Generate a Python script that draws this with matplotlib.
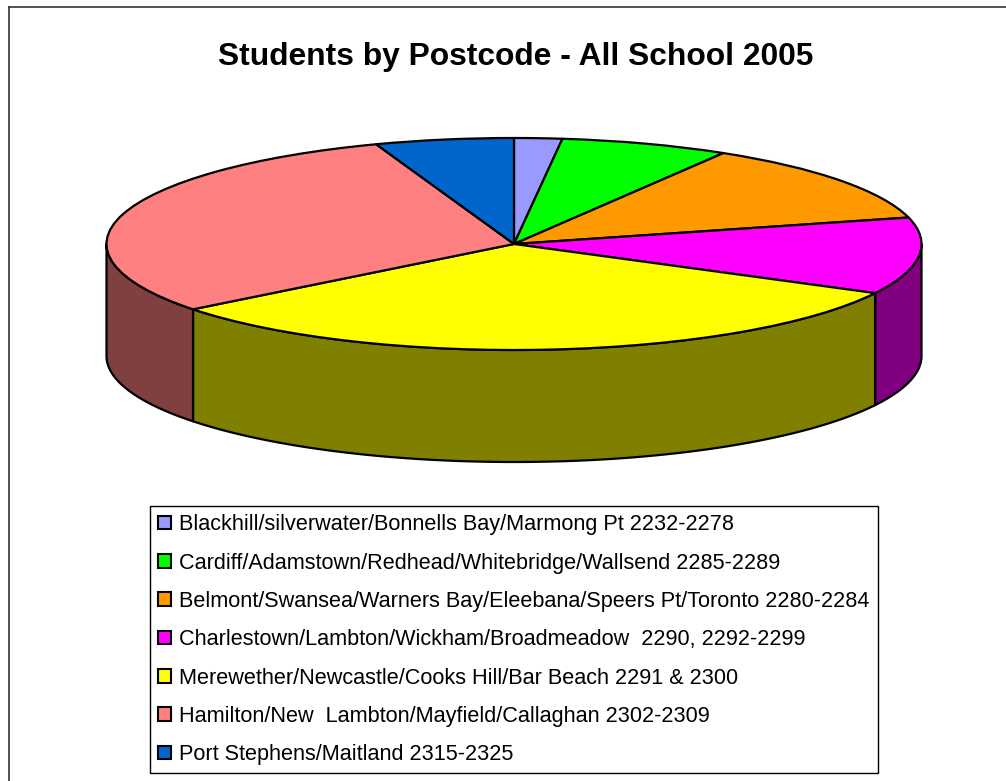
import numpy as np
import matplotlib
matplotlib.use("Agg")
import matplotlib.pyplot as plt
from matplotlib.lines import Line2D

labels = [
    "Blackhill/silverwater/Bonnells Bay/Marmong Pt 2232-2278",
    "Cardiff/Adamstown/Redhead/Whitebridge/Wallsend 2285-2289",
    "Belmont/Swansea/Warners Bay/Eleebana/Speers Pt/Toronto 2280-2284",
    "Charlestown/Lambton/Wickham/Broadmeadow  2290, 2292-2299",
    "Merewether/Newcastle/Cooks Hill/Bar Beach 2291 & 2300",
    "Hamilton/New  Lambton/Mayfield/Callaghan 2302-2309",
    "Port Stephens/Maitland 2315-2325",
]
# percent of students
values = [1.9, 6.7, 12.4, 11.7, 31.8, 30.1, 5.5]
top_colors = ["#9999FF", "#00FF00", "#FF9900", "#FF00FF", "#FFFF00", "#FF8080", "#0066CC"]
side_colors = ["#4C4C80", "#008000", "#804C00", "#800080", "#808000", "#804040", "#003366"]

W, H = 1006, 781
plt.rcParams["font.family"] = ["Liberation Sans", "DejaVu Sans"]
fig = plt.figure(figsize=(W / 100, H / 100), dpi=100, facecolor="white")

# axes box is the bounding box of the top ellipse, so the circle of pie() gets squashed
ax = fig.add_axes([106.5 / W, 1 - 350 / H, 815 / W, 212 / H])
depth = 112 / 106

angles = np.cumsum([0] + values) / np.sum(values) * 360

# side wall first, only the part of each slice facing the viewer
for i in range(len(values)):
    a = max(angles[i], 90)
    b = min(angles[i + 1], 270)
    if a >= b:
        continue
    t = np.radians(np.linspace(a, b, 120))
    x = np.sin(t)
    y = np.cos(t)
    ax.fill(np.r_[x, x[::-1]], np.r_[y, y[::-1] - depth], facecolor=side_colors[i],
            edgecolor="black", linewidth=1.6, joinstyle="round", clip_on=False, zorder=1)

wedges, _ = ax.pie(values, colors=top_colors, startangle=90, counterclock=False, radius=1,
                   wedgeprops=dict(edgecolor="black", linewidth=1.6, joinstyle="round"))
for w in wedges:
    w.set_zorder(2)
    w.set_clip_on(False)
ax.set_aspect("auto")
ax.set_xlim(-1, 1)
ax.set_ylim(-1, 1)

fig.text(515.5 / W, 1 - 56.5 / H, "Students by Postcode - All School 2005", ha="center", va="center",
         fontsize=22.9, fontweight="bold", color="black")

leg = fig.legend(wedges, labels, loc="upper left", bbox_to_anchor=(150 / W, 1 - 506 / H),
                 bbox_transform=fig.transFigure, fontsize=15.6, frameon=True, fancybox=False,
                 edgecolor="black", facecolor="white", framealpha=1, labelspacing=0.8,
                 handlelength=0.6, handleheight=0.6, handletextpad=0.37, borderpad=0.38,
                 borderaxespad=0)
leg.get_frame().set_linewidth(1.0)
for h in leg.legend_handles:
    h.set_linewidth(1.5)

# chart area border, only top and left end up inside the image
fig.add_artist(Line2D([8.5 / W, 8.5 / W], [0, 1 - 7 / H], color="#333333", linewidth=1.2))
fig.add_artist(Line2D([8.5 / W, 1], [1 - 7 / H, 1 - 7 / H], color="#333333", linewidth=1.2))

fig.savefig("out.png", dpi=100)
